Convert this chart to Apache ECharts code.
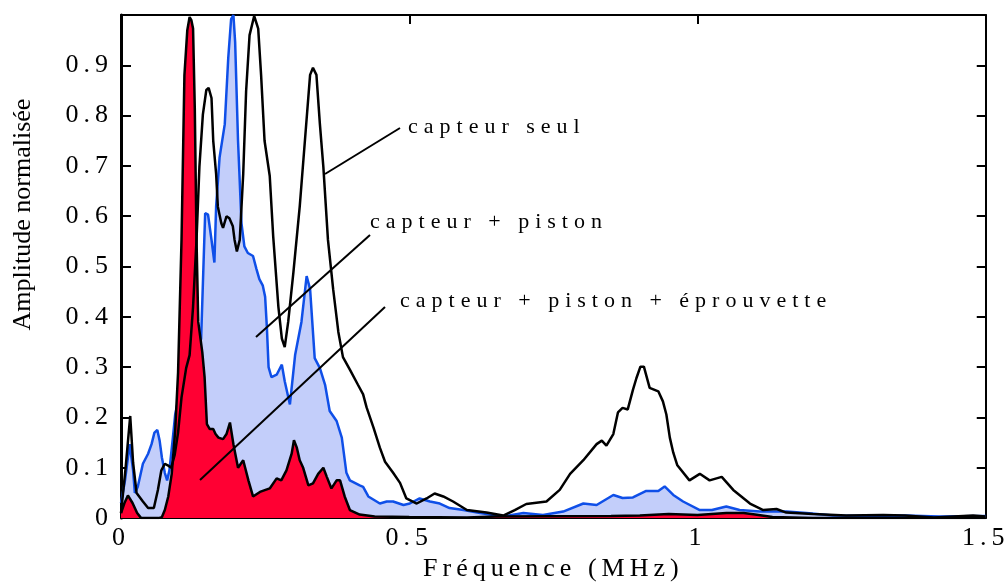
<!DOCTYPE html>
<html><head><meta charset="utf-8">
<script src="https://cdn.jsdelivr.net/npm/echarts@6/dist/echarts.min.js"></script>
<style>html,body{margin:0;padding:0;background:#fff}#c{width:1005px;height:587px}</style>
</head><body><div id="c"></div>
<script>
// ---- Data (frequency in MHz, normalised amplitude) ----
const freqSeul = [0.000,0.008,0.016,0.021,0.027,0.038,0.047,0.057,0.064,0.070,0.076,0.081,0.087,0.093,0.099,0.105,0.113,0.119,0.125,0.131,0.136,0.142,0.148,0.152,0.157,0.160,0.165,0.168,0.174,0.177,0.183,0.188,0.194,0.197,0.201,0.206,0.212,0.217,0.223,0.231,0.238,0.243,0.249,0.258,0.264,0.273,0.279,0.284,0.290,0.299,0.310,0.319,0.328,0.333,0.339,0.345,0.351,0.359,0.368,0.377,0.385,0.397,0.411,0.420,0.426,0.438,0.449,0.458,0.472,0.484,0.495,0.513,0.530,0.544,0.559,0.576,0.600,0.634,0.663,0.683,0.703,0.738,0.761,0.779,0.802,0.825,0.834,0.842,0.854,0.862,0.870,0.879,0.888,0.894,0.901,0.907,0.917,0.932,0.940,0.946,0.952,0.958,0.965,0.986,1.004,1.021,1.042,1.062,1.091,1.114,1.137,1.154,1.200,1.258,1.322,1.360,1.410,1.478,1.500];
const ampSeul  = [0.010,0.100,0.203,0.110,0.050,0.033,0.020,0.020,0.056,0.095,0.108,0.105,0.100,0.125,0.170,0.240,0.298,0.324,0.420,0.553,0.698,0.802,0.851,0.855,0.835,0.750,0.684,0.619,0.586,0.577,0.600,0.596,0.580,0.553,0.530,0.553,0.684,0.848,0.960,0.998,0.973,0.881,0.750,0.680,0.560,0.420,0.357,0.340,0.390,0.488,0.619,0.750,0.881,0.895,0.881,0.783,0.698,0.553,0.455,0.370,0.320,0.295,0.265,0.246,0.220,0.180,0.140,0.112,0.090,0.070,0.039,0.029,0.039,0.049,0.043,0.033,0.016,0.011,0.005,0.016,0.028,0.033,0.056,0.088,0.115,0.147,0.154,0.144,0.167,0.210,0.219,0.216,0.255,0.278,0.301,0.301,0.259,0.252,0.232,0.206,0.160,0.130,0.105,0.075,0.088,0.075,0.082,0.056,0.029,0.016,0.018,0.011,0.008,0.005,0.006,0.005,0.001,0.005,0.003];

const freqPiston = [0.000,0.007,0.015,0.021,0.024,0.029,0.038,0.047,0.053,0.058,0.063,0.067,0.071,0.076,0.080,0.084,0.090,0.094,0.100,0.110,0.120,0.130,0.139,0.143,0.146,0.151,0.157,0.162,0.165,0.171,0.180,0.186,0.191,0.195,0.198,0.203,0.209,0.214,0.220,0.229,0.235,0.240,0.246,0.250,0.253,0.256,0.261,0.270,0.279,0.284,0.293,0.302,0.313,0.322,0.328,0.336,0.345,0.354,0.362,0.374,0.383,0.391,0.397,0.414,0.420,0.429,0.449,0.461,0.472,0.490,0.501,0.518,0.536,0.553,0.570,0.594,0.623,0.663,0.698,0.732,0.767,0.802,0.825,0.854,0.870,0.888,0.911,0.932,0.943,0.958,0.975,1.004,1.025,1.050,1.073,1.108,1.154,1.189,1.235,1.300,1.360,1.420,1.500];
const ampPiston  = [0.030,0.075,0.147,0.095,0.050,0.062,0.108,0.128,0.147,0.170,0.175,0.154,0.120,0.090,0.075,0.095,0.160,0.206,0.240,0.270,0.290,0.310,0.357,0.500,0.606,0.603,0.553,0.508,0.619,0.717,0.783,0.914,0.992,1.000,0.946,0.750,0.586,0.540,0.527,0.521,0.495,0.475,0.462,0.440,0.380,0.300,0.280,0.285,0.305,0.272,0.226,0.324,0.390,0.481,0.455,0.318,0.298,0.265,0.213,0.193,0.160,0.090,0.075,0.065,0.062,0.043,0.029,0.033,0.033,0.026,0.029,0.039,0.033,0.029,0.020,0.016,0.010,0.003,0.010,0.006,0.013,0.029,0.026,0.046,0.040,0.041,0.054,0.054,0.063,0.046,0.033,0.016,0.016,0.023,0.016,0.013,0.013,0.010,0.005,0.004,0.005,0.003,0.004];

const freqEprouv = [0.000,0.006,0.012,0.020,0.028,0.035,0.065,0.071,0.076,0.082,0.088,0.094,0.099,0.105,0.110,0.115,0.119,0.122,0.125,0.128,0.131,0.134,0.141,0.145,0.149,0.154,0.160,0.164,0.169,0.177,0.183,0.189,0.195,0.203,0.212,0.221,0.229,0.241,0.258,0.270,0.278,0.287,0.296,0.300,0.305,0.310,0.316,0.325,0.333,0.342,0.351,0.357,0.365,0.374,0.380,0.388,0.397,0.414,0.440,0.500,0.600,0.650,0.850,0.900,0.950,1.000,1.050,1.080,1.100,1.130,1.200,1.500];
const ampEprouv  = [0.010,0.030,0.045,0.030,0.010,0.000,0.000,0.002,0.016,0.043,0.088,0.174,0.290,0.554,0.880,0.970,0.996,0.990,0.973,0.815,0.554,0.390,0.330,0.280,0.187,0.177,0.177,0.167,0.160,0.157,0.167,0.190,0.147,0.100,0.115,0.075,0.043,0.052,0.059,0.079,0.075,0.095,0.128,0.155,0.140,0.115,0.100,0.065,0.069,0.088,0.100,0.082,0.059,0.075,0.075,0.043,0.016,0.007,0.003,0.002,0.001,0.003,0.004,0.005,0.008,0.006,0.010,0.010,0.007,0.002,0.000,0.000];

const xTicks = [0, 0.5, 1, 1.5];
const yTickStep = 0.1;
const xName = 'Fréquence (MHz)';
const yName = 'Amplitude normalisée';
const labelSeul = 'capteur seul';
const labelPiston = 'capteur + piston';
const labelEprouv = 'capteur + piston + éprouvette';

// ---- letter-spaced text like the original figure ----
(function(){
  const P = CanvasRenderingContext2D.prototype;
  const orig = P.fillText;
  const annots = [labelSeul, labelPiston, labelEprouv];
  P.fillText = function(t, x, y, w){
    let s = 5;
    if (t === yName) s = 0;
    else if (annots.indexOf(t) >= 0) s = 6;
    try { this.letterSpacing = s + 'px'; } catch(e) {}
    const r = (w === undefined) ? orig.call(this, t, x, y) : orig.call(this, t, x, y, w);
    try { this.letterSpacing = '0px'; } catch(e) {}
    return r;
  };
})();

const zip = (a, b) => a.map((v, i) => [v, b[i]]);
const FONT = 'Liberation Serif';

const chart = echarts.init(document.getElementById('c'), null, {renderer: 'canvas'});
const tickStyle = {show: true, inside: true, length: 9, lineStyle: {color: '#000', width: 2}};
chart.setOption({
  animation: false,
  backgroundColor: '#fff',
  grid: {left: 121, right: 18, top: 15, bottom: 61, show: false},
  xAxis: [{
    type: 'value', min: xTicks[0], max: xTicks[xTicks.length - 1], interval: xTicks[1] - xTicks[0],
    position: 'bottom',
    axisLine: {show: true, onZero: false, lineStyle: {color: '#000', width: 2}},
    axisTick: tickStyle,
    splitLine: {show: false},
    axisLabel: {color: '#000', fontFamily: FONT, fontSize: 26, margin: 7,
      formatter: v => String(+v.toFixed(1))},
    name: xName, nameLocation: 'middle', nameGap: 36,
    nameTextStyle: {color: '#000', fontFamily: FONT, fontSize: 26}
  }, {
    type: 'value', min: xTicks[0], max: xTicks[xTicks.length - 1], interval: xTicks[1] - xTicks[0],
    position: 'top',
    axisLine: {show: true, onZero: false, lineStyle: {color: '#000', width: 2}},
    axisTick: tickStyle, axisLabel: {show: false}, splitLine: {show: false}
  }],
  yAxis: [{
    type: 'value', min: 0, max: 1, interval: yTickStep, position: 'left',
    axisLine: {show: true, onZero: false, lineStyle: {color: '#000', width: 3}},
    axisTick: {show: true, inside: true, length: 10, lineStyle: {color: '#000', width: 2}},
    splitLine: {show: false},
    axisLabel: {color: '#000', fontFamily: FONT, fontSize: 26, margin: 8,
      formatter: v => v > 0.95 ? '' : String(+v.toFixed(1))},
    name: yName, nameLocation: 'middle', nameGap: 85,
    nameTextStyle: {color: '#000', fontFamily: FONT, fontSize: 26, padding: [0, 0, 0, 104]}
  }, {
    type: 'value', min: 0, max: 1, interval: yTickStep, position: 'right',
    axisLine: {show: true, onZero: false, lineStyle: {color: '#000', width: 2}},
    axisTick: tickStyle, axisLabel: {show: false}, splitLine: {show: false}
  }],
  series: [{
    name: labelPiston, type: 'line', data: zip(freqPiston, ampPiston),
    showSymbol: false, symbol: 'none', z: 2,
    lineStyle: {color: '#0f4fe8', width: 2.5},
    areaStyle: {color: '#c3cefa', opacity: 1}
  }, {
    name: labelEprouv, type: 'line', data: zip(freqEprouv, ampEprouv),
    showSymbol: false, symbol: 'none', z: 3,
    lineStyle: {color: '#000', width: 2.5},
    areaStyle: {color: '#ff0033', opacity: 1}
  }, {
    name: labelSeul, type: 'line', data: zip(freqSeul, ampSeul),
    showSymbol: false, symbol: 'none', z: 4,
    lineStyle: {color: '#000', width: 2.5}
  }],
  graphic: [
    {type: 'line', shape: {x1: 325, y1: 174, x2: 400, y2: 128}, style: {stroke: '#000', lineWidth: 2}, z: 100},
    {type: 'line', shape: {x1: 256, y1: 337, x2: 370, y2: 235}, style: {stroke: '#000', lineWidth: 2}, z: 100},
    {type: 'line', shape: {x1: 200, y1: 480, x2: 385, y2: 307}, style: {stroke: '#000', lineWidth: 2}, z: 100},
    {type: 'text', x: 408, y: 127, z: 100, style: {text: labelSeul, font: '22px "Liberation Serif"', fill: '#000', verticalAlign: 'middle', textVerticalAlign: 'middle'}},
    {type: 'text', x: 370, y: 222, z: 100, style: {text: labelPiston, font: '22px "Liberation Serif"', fill: '#000', verticalAlign: 'middle', textVerticalAlign: 'middle'}},
    {type: 'text', x: 400, y: 301, z: 100, style: {text: labelEprouv, font: '22px "Liberation Serif"', fill: '#000', verticalAlign: 'middle', textVerticalAlign: 'middle'}}
  ]
});
</script>
</body></html>
